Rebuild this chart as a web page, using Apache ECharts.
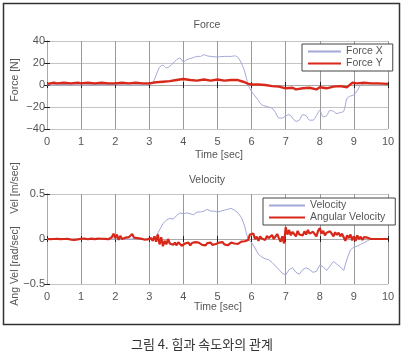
<!DOCTYPE html>
<html><head><meta charset="utf-8">
<script src="https://cdn.jsdelivr.net/npm/echarts@6/dist/echarts.min.js"></script>
<style>html,body{margin:0;padding:0;background:#fff}#c{width:405px;height:356px}</style>
</head><body><div id="c"></div>
<script>
var xTicks = [0,1,2,3,4,5,6,7,8,9,10];
var forceTicks = [-40,-20,0,20,40];
var velTicks = [-0.5,0,0.5];

var forceX = [[0,0],[0.5,0.5],[1,0],[1.5,0.5],[2,0.3],[2.5,0],[3.0,0.5],[3.1,2],[3.2,9],[3.3,16],[3.4,18],[3.5,15.5],[3.6,17],[3.7,20],[3.8,23],[3.9,24.5],[4.0,21],[4.1,23],[4.2,24],[4.3,25],[4.4,26],[4.5,26],[4.6,27.5],[4.7,26.5],[4.8,26],[5.0,25.5],[5.2,26],[5.4,26],[5.5,26.5],[5.6,25],[5.7,20],[5.8,12],[5.9,0],[6.0,-6],[6.1,-10],[6.2,-14],[6.3,-18],[6.5,-20],[6.6,-21],[6.7,-25],[6.8,-30],[6.9,-30],[7.0,-28],[7.1,-27],[7.2,-30],[7.3,-33],[7.4,-32],[7.5,-27],[7.6,-28],[7.7,-32],[7.8,-32],[7.9,-28],[8.0,-23],[8.1,-29],[8.2,-28],[8.3,-23],[8.4,-24],[8.5,-26],[8.6,-25],[8.7,-24],[8.8,-12],[8.9,-10],[9.0,-9],[9.1,-5],[9.2,0],[9.3,1],[9.5,1],[10,1]];
var forceY = [[0,1],[0.1,1.5],[0.2,2],[0.3,1.5],[0.5,2],[0.7,1.5],[0.9,2],[1.0,1.5],[1.2,2],[1.4,1.5],[1.6,2],[1.8,1.5],[2.0,1.5],[2.2,2],[2.4,1.5],[2.6,2],[2.8,1.5],[3.0,1.5],[3.2,2.5],[3.4,3],[3.6,3.5],[3.8,4.5],[4.0,5.5],[4.2,4.5],[4.4,4],[4.6,5],[4.8,4],[5.0,5],[5.2,4],[5.4,4.5],[5.6,4.5],[5.8,2.5],[5.9,1],[6.0,0.5],[6.2,0.5],[6.4,0],[6.6,-1],[6.8,-1.5],[7.0,-3],[7.2,-2.5],[7.3,-4],[7.5,-3],[7.7,-2.5],[7.9,-4],[8.0,-2],[8.2,-3],[8.4,-1.5],[8.6,-1],[8.8,-2],[8.95,2],[9.1,1.5],[9.3,2],[9.5,1.5],[9.7,1.5],[10,1]];

var velocity = [[0,0],[3.15,0],[3.2,0.03],[3.3,0.1],[3.4,0.17],[3.5,0.21],[3.6,0.23],[3.7,0.22],[3.8,0.26],[3.9,0.29],[4.0,0.28],[4.1,0.29],[4.2,0.28],[4.3,0.27],[4.4,0.3],[4.5,0.3],[4.6,0.31],[4.7,0.33],[4.8,0.31],[4.9,0.31],[5.0,0.3],[5.1,0.31],[5.2,0.32],[5.3,0.33],[5.4,0.34],[5.5,0.32],[5.6,0.29],[5.7,0.24],[5.8,0.14],[5.85,0.06],[5.9,0.0],[6.0,-0.04],[6.1,-0.1],[6.2,-0.17],[6.3,-0.2],[6.4,-0.22],[6.5,-0.23],[6.6,-0.26],[6.7,-0.3],[6.8,-0.34],[6.9,-0.38],[7.0,-0.4],[7.1,-0.34],[7.2,-0.32],[7.3,-0.37],[7.4,-0.39],[7.5,-0.34],[7.6,-0.32],[7.7,-0.34],[7.8,-0.37],[7.9,-0.36],[8.0,-0.29],[8.1,-0.31],[8.2,-0.35],[8.3,-0.3],[8.4,-0.25],[8.5,-0.28],[8.6,-0.31],[8.7,-0.35],[8.8,-0.22],[8.9,-0.12],[9.0,-0.09],[9.1,-0.08],[9.2,-0.06],[9.3,-0.04],[9.4,-0.02],[9.5,0]];

var angStep = 0.05;
var angVel = [0,0.002,-0.001,0.003,0,-0.002,0.001,0.003,-0.001,0.002,
0,-0.003,0.002,-0.004,-0.006,-0.008,-0.01,-0.006,-0.004,0.002,
0.003,-0.002,0.004,0.001,-0.003,0.002,0.005,0,-0.002,0.003,
0.004,-0.001,0.003,0.006,0.001,0.004,-0.002,0.003,0.02,0.06,
0.01,0.05,-0.01,0.035,0.0,-0.02,0.015,-0.005,0.02,0.01,
0.055,0.015,0.0,0.01,-0.008,0.004,0.002,-0.006,0.003,-0.004,
-0.008,0.01,-0.02,0.03,-0.03,0.05,-0.06,0.02,-0.08,-0.02,
-0.06,0.0,-0.05,-0.03,-0.065,-0.04,-0.07,-0.035,-0.05,-0.075,
-0.09,-0.05,-0.065,-0.04,-0.07,-0.045,-0.06,-0.035,-0.055,-0.04,
-0.03,-0.065,-0.05,-0.07,-0.045,-0.06,-0.04,-0.065,-0.05,-0.055,
-0.06,-0.04,-0.055,-0.035,-0.06,-0.045,-0.07,-0.05,-0.04,-0.06,
-0.05,-0.035,-0.055,-0.04,-0.03,-0.045,-0.025,-0.03,-0.01,0.05,
0.03,0.06,0.0,0.025,-0.02,0.03,0.005,0.02,-0.01,0.035,
0.01,0.03,0.045,0.0,0.02,0.055,0.01,-0.03,0.03,-0.05,
0.13,0.05,0.1,0.04,0.08,0.06,0.03,0.09,0.05,0.07,
0.04,0.085,0.05,0.1,0.06,0.045,0.08,0.065,0.03,0.09,
0.12,0.06,0.09,0.04,0.07,0.05,0.085,0.06,0.03,0.075,
0.045,0.07,0.03,0.06,0.02,-0.02,0.04,0.01,0.05,-0.015,
0.03,-0.02,0.04,0.0,0.025,-0.01,0.02,0.005,0.015,0.02,
0.0,0.002,0,0,0,0,0,0,0,0,0];

var FONT = '"Liberation Sans", Arial, sans-serif';
var LBL = '#555';
var RED = '#d8281a';
var BLUE = '#a3a8d8';

var grids = [
  {left:47, top:41, width:341, height:88},
  {left:47, top:194, width:341, height:90}
];

function xAx(gi, pos, show) {
  return {
    type:'value', gridIndex:gi, position:pos, min:0, max:10, interval:1,
    axisLine:{show:true, lineStyle:{color:'#aaa', width:1}},
    axisTick:{show:true, inside:true, length:3, lineStyle:{color:'#222'}},
    axisLabel:{show:show, color:LBL, fontFamily:FONT, fontSize:11, margin:7,
      formatter:function(v){return xTicks.indexOf(v)>=0? String(v):'';}},
    splitLine:{show:show, lineStyle:{color:'#999', width:1}}
  };
}
function yAx(gi, pos, show, mn, mx, iv, ticks) {
  return {
    type:'value', gridIndex:gi, position:pos, min:mn, max:mx, interval:iv,
    axisLine:{show:true, lineStyle:{color:'#aaa', width:1}},
    axisTick:{show:true, inside:true, length:3, lineStyle:{color:'#222'}},
    axisLabel:{show:show, color:LBL, fontFamily:FONT, fontSize:11, margin:2,
      formatter:function(v){return ticks.indexOf(v)>=0? String(v).replace('-', '\u2212'):'';}},
    splitLine:{show:show, lineStyle:{color:'#c4c4c4', width:1}}
  };
}

function txt(t, x, y, size, rot, color) {
  return {type:'text', x:x, y:y, rotation:rot||0, z:100,
    style:{text:t, fill:color||LBL, font:size+'px '+FONT, textAlign:'center', textVerticalAlign:'middle'}};
}

function legendOpt(names, left, top, iw) {
  return {data:names.map(function(n){return {name:n, itemStyle:{opacity:0}};}),
    orient:'vertical', left:left, top:top, padding:[2,10,2,5], itemGap:1,
    itemWidth:iw, itemHeight:11, borderColor:'#444', borderWidth:1, backgroundColor:'#fff',
    itemStyle:{opacity:0},
    textStyle:{color:LBL, fontFamily:FONT, fontSize:10.5}};
}

var chart = echarts.init(document.getElementById('c'), null, {renderer:'canvas'});
chart.setOption({
  animation:false,
  backgroundColor:'#fff',
  grid: grids,
  xAxis:[xAx(0,'bottom',true), xAx(0,'top',false), xAx(1,'bottom',true), xAx(1,'top',false)],
  yAxis:[yAx(0,'left',true,-40,40,20,forceTicks), yAx(0,'right',false,-40,40,20,forceTicks),
         yAx(1,'left',true,-0.5,0.5,0.5,velTicks), yAx(1,'right',false,-0.5,0.5,0.5,velTicks)],
  legend:[ legendOpt(['Force X','Force Y'], 302, 44, 33), legendOpt(['Velocity','Angular Velocity'], 263, 198, 36) ],
  series:[
    {name:'Force X', type:'line', xAxisIndex:0, yAxisIndex:0, data:forceX, showSymbol:false, symbol:'none',
     smooth:0.3, lineStyle:{color:BLUE, width:1}, itemStyle:{color:BLUE}},
    {name:'Force Y', type:'line', xAxisIndex:0, yAxisIndex:0, data:forceY, showSymbol:false, symbol:'none',
     lineStyle:{color:RED, width:2.4}, itemStyle:{color:RED}},
    {name:'Velocity', type:'line', xAxisIndex:2, yAxisIndex:2, data:velocity, showSymbol:false, symbol:'none',
     lineStyle:{color:BLUE, width:1}, itemStyle:{color:BLUE}},
    {name:'Angular Velocity', type:'line', xAxisIndex:2, yAxisIndex:2,
     data:angVel.map(function(v,i){return [+(i*angStep).toFixed(2), v];}), showSymbol:false, symbol:'none',
     lineStyle:{color:RED, width:2.2}, itemStyle:{color:RED}}
  ],
  graphic:[
    {type:'rect', shape:{x:3.5, y:3.5, width:396, height:321}, style:{fill:null, stroke:'#333', lineWidth:1.5}, z:100},
    txt('Force', 207, 25, 10.5),
    txt('Time [sec]', 219, 155, 10.5),
    txt('Force [N]', 15, 80, 10.5, Math.PI/2),
    txt('Velocity', 207, 180, 10.5),
    txt('Time [sec]', 218, 307, 10.5),
    txt('Vel [m/sec]', 15, 188, 10.5, Math.PI/2),
    txt('Ang Vel [rad/sec]', 15, 266, 10.5, Math.PI/2),
    {type:'text', x:202, y:344, z:100, style:{text:'그림 4. 힘과 속도와의 관계', fill:'#333',
      font:'13px "Noto Sans CJK KR", sans-serif', textAlign:'center', textVerticalAlign:'middle'}}
  ]
});
</script></body></html>
